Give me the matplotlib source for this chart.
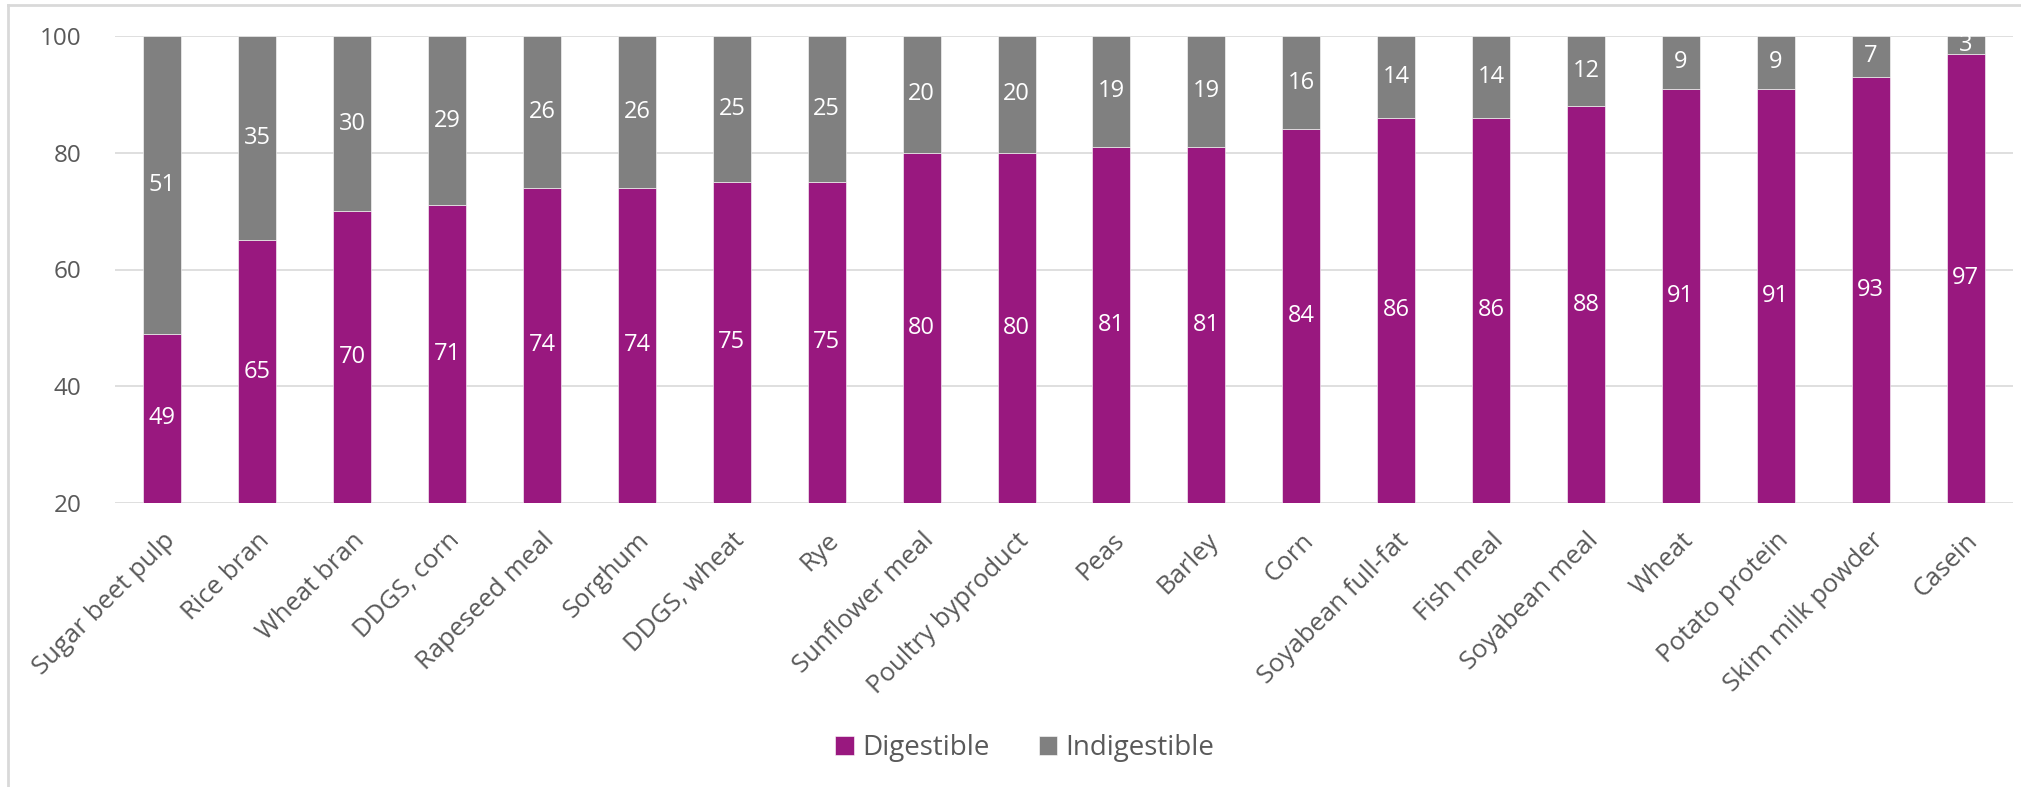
import numpy as np
import matplotlib.pyplot as plt
from matplotlib.lines import Line2D

# --- data ---
feeds = ['Sugar beet pulp', 'Rice bran', 'Wheat bran', 'DDGS, corn', 'Rapeseed meal',
         'Sorghum', 'DDGS, wheat', 'Rye', 'Sunflower meal', 'Poultry byproduct',
         'Peas', 'Barley', 'Corn', 'Soyabean full-fat', 'Fish meal',
         'Soyabean meal', 'Wheat', 'Potato protein', 'Skim milk powder', 'Casein']
digestible = [49, 65, 70, 71, 74, 74, 75, 75, 80, 80, 81, 81, 84, 86, 86, 88, 91, 91, 93, 97]
indigestible = [51, 35, 30, 29, 26, 26, 25, 25, 20, 20, 19, 19, 16, 14, 14, 12, 9, 9, 7, 3]
y_ticks = [20, 40, 60, 80, 100]

PURPLE = '#99187F'
GREY = '#808080'
TEXT = '#595959'
GRID = '#D9D9D9'

plt.rcParams['font.family'] = ['Open Sans', 'DejaVu Sans']

fig = plt.figure(figsize=(20.21, 7.87), dpi=100)
ax = fig.add_axes([115 / 2021, 1 - 503 / 787, (2013 - 115) / 2021, (503 - 36) / 787])

x = np.arange(len(feeds))
dig = np.array(digestible)
ind = np.array(indigestible)

ax.bar(x, dig, width=0.4, color=PURPLE, edgecolor='white', linewidth=0.4,
       label='Digestible', zorder=2)
ax.bar(x, ind, width=0.4, bottom=dig, color=GREY, edgecolor='white', linewidth=0.4,
       label='Indigestible', zorder=2)

ymin = y_ticks[0]
for xi, d, i in zip(x, dig, ind):
    # Excel centres labels on the visible part of the segment
    ax.text(xi, (max(d, ymin) + ymin) / 2, str(d), ha='center', va='center',
            color='white', fontsize=17, zorder=3)
    ax.text(xi, d + i / 2, str(i), ha='center', va='center',
            color='white', fontsize=17, zorder=3, clip_on=False)

ax.set_xlim(-0.5, len(feeds) - 0.5)
ax.set_ylim(ymin, 100)
ax.set_yticks(y_ticks)
ax.set_yticklabels([str(v) for v in y_ticks])
ax.set_xticks(x)
ax.set_xticklabels(feeds, rotation=45, ha='right', rotation_mode='anchor')

ax.grid(axis='y', color=GRID, linewidth=1.2, zorder=0)
ax.set_axisbelow(True)
for s in ax.spines.values():
    s.set_visible(False)
ax.tick_params(axis='both', length=0, colors=TEXT)
ax.tick_params(axis='y', pad=24, labelsize=17.5)
ax.tick_params(axis='x', pad=18, labelsize=18.5)

handles, labels = ax.get_legend_handles_labels()
fig.legend(handles, labels, loc='center', bbox_to_anchor=(1025 / 2021, 1 - 748 / 787),
           ncol=2, frameon=False, fontsize=20, labelcolor=TEXT,
           handlelength=0.65, handleheight=0.65, handletextpad=0.3, columnspacing=1.8)

# chart area border (left and top visible in the reference)
fig.add_artist(Line2D([8 / 2021, 8 / 2021], [0, 1 - 5 / 787], color=GRID, linewidth=2,
                      transform=fig.transFigure))
fig.add_artist(Line2D([8 / 2021, 1], [1 - 5 / 787, 1 - 5 / 787], color=GRID, linewidth=2,
                      transform=fig.transFigure))

fig.savefig('out.png', dpi=100, facecolor='white')
